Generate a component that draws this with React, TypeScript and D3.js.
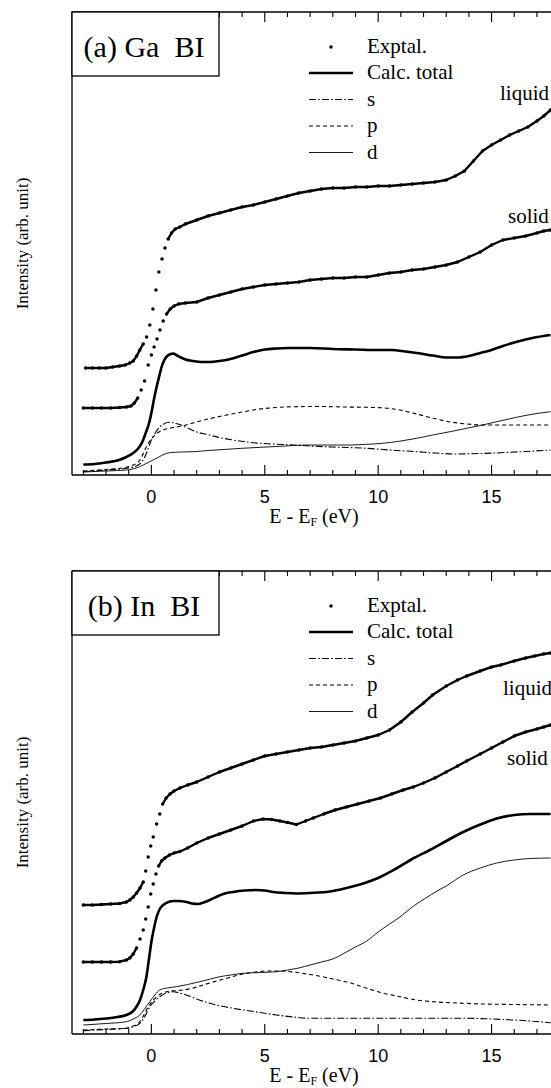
import React from 'react';
import * as d3 from 'd3';

type P = [number, number];

// ---------- axis / labels ----------
const xDomain: [number, number] = [-3.5, 18];
const yDomain: [number, number] = [0, 46.3];
const xTickLabels = [0, 5, 10, 15];
const legendLabels = ['Exptal.', 'Calc. total', 's', 'p', 'd'];

// ---------- panel (a) Ga BI ----------
const gaLiquid: P[] = [
  [-2.9, 10.7], [-2.6, 10.7], [-2.3, 10.7], [-2.0, 10.7], [-1.7, 10.8], [-1.4, 10.9], [-1.15, 11.0],
  [-0.95, 11.2], [-0.8, 11.4], [-0.65, 11.9], [-0.51, 12.5], [-0.36, 13.1], [-0.21, 13.8], [-0.07, 15.0],
  [0.07, 16.6], [0.2, 18.5], [0.33, 20.3], [0.47, 21.6], [0.6, 22.7], [0.74, 23.6], [0.89, 24.2],
  [1.05, 24.6], [1.25, 24.8], [1.5, 25.1], [2.0, 25.5], [2.5, 25.9], [3.0, 26.2], [3.5, 26.5], [4.0, 26.8],
  [4.5, 27.0], [5.0, 27.3], [5.5, 27.6], [6.0, 27.9], [6.5, 28.2], [7.0, 28.4], [7.5, 28.6], [8.0, 28.7],
  [8.5, 28.7], [9.0, 28.8], [9.5, 28.8], [10.0, 28.9], [10.5, 28.9], [11.0, 29.0], [11.5, 29.1],
  [12.0, 29.2], [12.5, 29.3], [13.0, 29.5], [13.4, 29.9], [13.8, 30.4], [14.2, 31.4], [14.6, 32.4],
  [15.0, 33.0], [15.4, 33.5], [15.8, 34.0], [16.2, 34.4], [16.6, 34.8], [17.0, 35.4], [17.3, 35.9], [17.6, 36.5],
];
const gaSolid: P[] = [
  [-3.0, 6.7], [-2.6, 6.7], [-2.2, 6.7], [-1.8, 6.7], [-1.4, 6.75], [-1.1, 6.8], [-0.9, 6.9], [-0.75, 7.2],
  [-0.6, 7.7], [-0.45, 8.5], [-0.3, 9.4], [-0.14, 11.0], [0.0, 12.0], [0.12, 12.8], [0.25, 13.6],
  [0.38, 14.5], [0.52, 15.4], [0.67, 16.1], [0.83, 16.6], [1.0, 16.9], [1.2, 17.1], [1.5, 17.2], [2.0, 17.3],
  [2.5, 17.7], [3.0, 18.0], [3.5, 18.3], [4.0, 18.6], [4.5, 18.8], [5.0, 19.0], [5.5, 19.1], [6.0, 19.2],
  [6.5, 19.3], [7.0, 19.5], [7.5, 19.6], [8.0, 19.7], [8.5, 19.7], [9.0, 19.8], [9.5, 19.8], [10.0, 20.0],
  [10.5, 20.2], [11.0, 20.3], [11.5, 20.5], [12.0, 20.6], [12.5, 20.8], [13.0, 21.0], [13.5, 21.3],
  [14.0, 21.8], [14.5, 22.3], [15.0, 23.0], [15.5, 23.5], [16.0, 23.7], [16.5, 23.9], [17.0, 24.2],
  [17.3, 24.4], [17.6, 24.5],
];
const gaTotal: P[] = [
  [-3.0, 1.05], [-2.5, 1.1], [-2.0, 1.25], [-1.5, 1.45], [-1.1, 1.8], [-0.8, 2.2], [-0.6, 2.6], [-0.4, 3.3],
  [-0.25, 4.2], [-0.1, 5.2], [0.0, 6.2], [0.1, 7.4], [0.23, 8.8], [0.35, 9.9], [0.45, 10.8], [0.57, 11.5],
  [0.7, 11.9], [0.85, 12.1], [0.96, 12.15], [1.1, 12.0], [1.26, 11.8], [1.5, 11.55], [1.84, 11.4],
  [2.2, 11.3], [2.6, 11.3], [3.0, 11.4], [3.4, 11.55], [4.0, 11.95], [4.5, 12.3], [5.0, 12.55], [5.5, 12.65],
  [6.0, 12.7], [7.0, 12.7], [8.0, 12.6], [9.0, 12.55], [10.0, 12.5], [10.6, 12.5], [11.2, 12.35],
  [11.7, 12.2], [12.4, 11.95], [13.0, 11.75], [13.5, 11.75], [14.0, 11.9], [14.5, 12.2], [15.0, 12.5],
  [15.5, 12.9], [16.0, 13.25], [16.8, 13.7], [17.6, 14.0],
];
const gaS: P[] = [
  [-3.0, 0.33], [-2.0, 0.5], [-1.1, 0.67], [-0.8, 0.8], [-0.58, 1.0], [-0.4, 1.4], [-0.29, 1.8],
  [-0.15, 2.6], [0.0, 3.5], [0.2, 4.3], [0.37, 4.8], [0.55, 5.1], [0.74, 5.27], [0.9, 5.25], [1.04, 5.17],
  [1.3, 5.0], [1.55, 4.75], [2.0, 4.3], [2.58, 4.0], [3.0, 3.75], [3.6, 3.5], [4.2, 3.3], [4.8, 3.17],
  [5.5, 3.08], [6.26, 3.0], [7.0, 2.9], [8.0, 2.8], [9.5, 2.67], [10.5, 2.5], [11.7, 2.33], [12.5, 2.2],
  [13.46, 2.1], [14.5, 2.15], [15.4, 2.23], [16.5, 2.35], [17.6, 2.5],
];
const gaP: P[] = [
  [-3.0, 0.4], [-2.0, 0.55], [-1.1, 0.77], [-0.8, 1.0], [-0.65, 1.17], [-0.45, 1.7], [-0.29, 2.5],
  [-0.1, 3.3], [0.08, 3.8], [0.3, 4.25], [0.52, 4.5], [0.75, 4.65], [0.96, 4.75], [1.45, 4.95],
  [1.84, 5.2], [2.5, 5.6], [3.32, 6.0], [4.0, 6.3], [4.79, 6.6], [5.5, 6.75], [6.26, 6.83], [7.5, 6.85],
  [8.5, 6.8], [9.5, 6.77], [10.3, 6.7], [10.96, 6.5], [11.7, 6.1], [12.43, 5.67], [13.2, 5.3],
  [13.9, 5.1], [14.6, 5.0], [15.37, 5.0], [16.5, 5.0], [17.6, 5.0],
];
const gaD: P[] = [
  [-3.0, 0.3], [-2.0, 0.4], [-1.1, 0.5], [-0.6, 0.75], [-0.36, 1.0], [-0.1, 1.3], [0.23, 1.67],
  [0.45, 1.95], [0.67, 2.17], [0.9, 2.25], [1.3, 2.3], [1.84, 2.33], [2.5, 2.45], [3.32, 2.57],
  [4.0, 2.67], [4.79, 2.77], [5.5, 2.85], [6.26, 2.95], [7.0, 3.0], [8.0, 3.0], [8.75, 3.0], [9.5, 3.07],
  [10.2, 3.17], [11.0, 3.4], [11.7, 3.67], [12.4, 4.0], [13.17, 4.33], [13.9, 4.67], [14.6, 5.0],
  [15.3, 5.37], [16.1, 5.77], [16.8, 6.08], [17.6, 6.33],
];

// ---------- panel (b) In BI ----------
const inLiquid: P[] = [
  [-3.0, 12.9], [-2.6, 12.9], [-2.2, 12.95], [-1.8, 13.0], [-1.4, 13.05], [-1.1, 13.2], [-0.95, 13.4],
  [-0.8, 13.7], [-0.65, 14.1], [-0.5, 14.6], [-0.36, 15.2], [-0.25, 16.3], [-0.14, 17.7], [-0.03, 18.8],
  [0.08, 19.7], [0.23, 21.0], [0.37, 22.0], [0.5, 23.0], [0.65, 23.6], [0.82, 24.0], [1.0, 24.3],
  [1.26, 24.6], [1.6, 24.9], [2.0, 25.2], [2.5, 25.7], [3.0, 26.2], [3.5, 26.6], [4.0, 27.0], [4.5, 27.4],
  [5.0, 27.8], [5.5, 28.0], [6.0, 28.2], [6.5, 28.4], [7.0, 28.6], [7.5, 28.7], [8.0, 28.9], [8.5, 29.1],
  [9.0, 29.3], [9.5, 29.6], [10.0, 29.9], [10.5, 30.4], [11.0, 31.2], [11.5, 32.2], [12.0, 33.1],
  [12.4, 33.9], [13.0, 34.8], [13.5, 35.4], [13.9, 35.8], [14.5, 36.3], [15.0, 36.7], [15.4, 36.9],
  [16.0, 37.3], [16.5, 37.6], [16.9, 37.8], [17.3, 38.0], [17.6, 38.1],
];
const inSolid: P[] = [
  [-3.0, 7.2], [-2.6, 7.2], [-2.2, 7.2], [-1.8, 7.2], [-1.4, 7.23], [-1.1, 7.4], [-0.95, 7.6], [-0.8, 8.0],
  [-0.65, 8.6], [-0.5, 9.5], [-0.36, 10.4], [-0.25, 11.5], [-0.14, 12.7], [-0.03, 14.0], [0.08, 15.0],
  [0.2, 16.0], [0.32, 16.8], [0.45, 17.3], [0.6, 17.6], [0.8, 17.9], [1.0, 18.1], [1.26, 18.25],
  [1.6, 18.6], [2.0, 19.1], [2.5, 19.6], [3.0, 20.0], [3.5, 20.4], [4.0, 20.8], [4.5, 21.3], [4.93, 21.5],
  [5.3, 21.45], [5.67, 21.3], [6.0, 21.15], [6.4, 20.95], [6.8, 21.3], [7.14, 21.6], [7.6, 22.0], [8.1, 22.4],
  [8.6, 22.7], [9.1, 23.0], [9.6, 23.3], [10.1, 23.6], [10.6, 24.0], [11.1, 24.4], [11.55, 24.7],
  [12.0, 25.1], [12.5, 25.6], [13.0, 26.2], [13.5, 26.8], [13.9, 27.3], [14.5, 28.0], [15.0, 28.6],
  [15.5, 29.2], [16.0, 29.8], [16.5, 30.2], [17.0, 30.5], [17.3, 30.7], [17.6, 30.9],
];
const inTotal: P[] = [
  [-3.0, 1.4], [-2.5, 1.45], [-2.0, 1.55], [-1.5, 1.7], [-1.1, 1.9], [-0.8, 2.3], [-0.65, 2.75],
  [-0.5, 3.4], [-0.36, 4.4], [-0.22, 5.7], [-0.1, 7.6], [0.0, 9.2], [0.1, 10.4], [0.23, 11.7],
  [0.37, 12.5], [0.52, 12.9], [0.75, 13.2], [1.0, 13.3], [1.2, 13.3], [1.55, 13.2], [1.8, 13.05],
  [2.06, 13.0], [2.3, 13.15], [2.58, 13.4], [2.9, 13.75], [3.17, 14.0], [3.6, 14.2], [4.1, 14.35],
  [4.64, 14.4], [5.0, 14.35], [5.37, 14.2], [5.9, 14.1], [6.4, 14.05], [7.0, 14.1], [7.87, 14.25],
  [8.6, 14.6], [9.34, 15.05], [10.0, 15.6], [10.8, 16.55], [11.5, 17.5], [12.28, 18.4], [13.0, 19.3],
  [13.75, 20.2], [14.5, 20.95], [15.23, 21.55], [16.0, 21.9], [16.7, 22.0], [17.6, 22.0],
];
const inS: P[] = [
  [-3.0, 0.33], [-2.0, 0.45], [-1.1, 0.57], [-0.8, 0.75], [-0.5, 1.07], [-0.3, 1.7], [-0.07, 2.73],
  [0.15, 3.3], [0.37, 3.73], [0.65, 4.1], [0.96, 4.23], [1.25, 4.1], [1.55, 3.9], [2.0, 3.5], [2.58, 3.07],
  [3.3, 2.7], [4.05, 2.4], [4.8, 2.15], [5.52, 1.9], [6.26, 1.7], [6.99, 1.57], [8.0, 1.57], [9.5, 1.57],
  [11.0, 1.57], [12.5, 1.57], [13.9, 1.57], [15.0, 1.5], [16.0, 1.4], [16.8, 1.28], [17.6, 1.13],
];
const inP: P[] = [
  [-3.0, 0.4], [-2.0, 0.5], [-1.1, 0.57], [-0.8, 0.8], [-0.58, 1.07], [-0.35, 1.8], [-0.14, 2.73],
  [0.05, 3.3], [0.23, 3.73], [0.45, 4.05], [0.67, 4.23], [1.0, 4.33], [1.4, 4.4], [1.85, 4.6],
  [2.28, 4.9], [2.8, 5.25], [3.32, 5.57], [4.05, 6.0], [4.6, 6.2], [5.08, 6.3], [5.6, 6.3], [6.26, 6.2],
  [6.99, 5.95], [7.5, 5.75], [8.0, 5.5], [8.8, 5.1], [9.5, 4.57], [10.2, 4.1], [10.96, 3.73], [11.7, 3.4],
  [12.43, 3.23], [13.5, 3.1], [14.6, 3.0], [16.0, 2.95], [17.6, 2.9],
];
const inD: P[] = [
  [-3.0, 0.9], [-2.0, 1.05], [-1.1, 1.23], [-0.8, 1.5], [-0.51, 1.9], [-0.3, 2.5], [-0.07, 3.23],
  [0.15, 3.9], [0.37, 4.4], [0.7, 4.6], [1.11, 4.73], [1.6, 4.95], [2.14, 5.23], [2.6, 5.5], [3.02, 5.73],
  [3.5, 5.9], [4.05, 6.07], [4.8, 6.15], [5.52, 6.23], [6.0, 6.4], [6.5, 6.6], [7.0, 6.9], [7.5, 7.2],
  [8.0, 7.5], [8.6, 8.2], [9.0, 8.7], [9.5, 9.3], [10.0, 10.2], [10.5, 11.0], [10.96, 11.7], [11.5, 12.7],
  [12.1, 13.6], [12.6, 14.3], [13.0, 14.8], [13.75, 15.9], [14.5, 16.6], [15.23, 17.1], [16.0, 17.4],
  [16.7, 17.55], [17.6, 17.6],
];

// ---------- layout ----------
const LEFT = 72;
const RIGHT = 559.6;
const PANEL_H = 463;
const SERIF = "'Liberation Serif', 'Times New Roman', Times, 'Nimbus Roman', 'DejaVu Serif', serif";
const SANS = "'Liberation Sans', Arial, Helvetica, sans-serif";

const panels = [
  { title: '(a) Ga  BI', top: 12, liquid: gaLiquid, solid: gaSolid, total: gaTotal, s: gaS, p: gaP, d: gaD,
    liquidPos: [500, 100], solidPos: [508, 223] },
  { title: '(b) In  BI', top: 571, liquid: inLiquid, solid: inSolid, total: inTotal, s: inS, p: inP, d: inD,
    liquidPos: [503, 695], solidPos: [507, 765] },
];

const styleTotal = { strokeWidth: 2.6, dash: undefined as string | undefined };
const styleS = { strokeWidth: 1.1, dash: '7 2.2 1.6 2.2' };
const styleP = { strokeWidth: 1.1, dash: '4 3' };
const styleD = { strokeWidth: 0.9, dash: undefined as string | undefined };

function Exptl({ data, x, y }: { data: P[]; x: any; y: any }) {
  let d = '';
  for (let i = 1; i < data.length; i++) {
    const a = data[i - 1], b = data[i];
    const dx = Math.abs(x(b[0]) - x(a[0]));
    const dy = Math.abs(y(b[1]) - y(a[1]));
    if (dy <= 1.3 * dx + 2) {
      d += `M${x(a[0])},${y(a[1])}L${x(b[0])},${y(b[1])}`;
    }
  }
  return (
    <g>
      <path d={d} fill="none" stroke="#000" strokeWidth={2.4} strokeLinecap="round" />
      {data.map((pt, i) => (
        <circle key={i} cx={x(pt[0])} cy={y(pt[1])} r={1.75} fill="#000" />
      ))}
    </g>
  );
}

const serifStyle = { fontFamily: SERIF };
const sansStyle = { fontFamily: SANS };

function Panel(props: any) {
  const { title, top, liquid, solid, total, s, p, d, liquidPos, solidPos } = props;
  const bottom = top + PANEL_H;
  const x = d3.scaleLinear().domain(xDomain).range([LEFT, RIGHT]);
  const y = d3.scaleLinear().domain(yDomain).range([bottom, top]);
  const line = d3.line<P>().x((v) => x(v[0])).y((v) => y(v[1])).curve(d3.curveMonotoneX);
  const ticks = d3.range(-3, 19);

  const curves = [
    { data: total, st: styleTotal },
    { data: s, st: styleS },
    { data: p, st: styleP },
    { data: d, st: styleD },
  ];

  const legendRowY = [35, 61, 87.5, 114, 140.5];
  const legendStyles = [null, styleTotal, styleS, styleP, styleD];

  return (
    <g>
      {/* frame */}
      <line x1={LEFT} y1={top} x2={RIGHT} y2={top} stroke="#000" strokeWidth={1.3} />
      <line x1={LEFT} y1={bottom} x2={RIGHT} y2={bottom} stroke="#000" strokeWidth={1.3} />
      <line x1={LEFT} y1={top} x2={LEFT} y2={bottom} stroke="#000" strokeWidth={1.3} />
      <line x1={RIGHT} y1={top} x2={RIGHT} y2={bottom} stroke="#000" strokeWidth={1.3} />
      {ticks.map((t) => {
        const len = t % 5 === 0 ? 10 : 5;
        return (
          <g key={t}>
            <line x1={x(t)} x2={x(t)} y1={bottom} y2={bottom - len} stroke="#000" strokeWidth={1.1} />
            <line x1={x(t)} x2={x(t)} y1={top} y2={top + len} stroke="#000" strokeWidth={1.1} />
          </g>
        );
      })}
      {xTickLabels.map((t) => (
        <text key={t} x={x(t)} y={bottom + 28} textAnchor="middle" style={sansStyle} fontSize={18}>
          {t}
        </text>
      ))}
      <text x={314} y={bottom + 48} textAnchor="middle" style={serifStyle} fontSize={20}>
        E - E<tspan fontSize={12} dy={3}>F</tspan>
        <tspan dy={-3}> (eV)</tspan>
      </text>
      <text
        transform={`translate(28,${(top + bottom) / 2}) rotate(-90)`}
        textAnchor="middle"
        style={serifStyle}
        fontSize={17}
      >
        Intensity (arb. unit)
      </text>

      {/* curves */}
      {curves.map((c, i) => (
        <path
          key={i}
          d={line(c.data) || ''}
          fill="none"
          stroke="#000"
          strokeWidth={c.st.strokeWidth}
          strokeDasharray={c.st.dash}
        />
      ))}
      <Exptl data={liquid} x={x} y={y} />
      <Exptl data={solid} x={x} y={y} />

      {/* labels */}
      <text x={liquidPos[0]} y={liquidPos[1]} style={serifStyle} fontSize={21}>liquid</text>
      <text x={solidPos[0]} y={solidPos[1]} style={serifStyle} fontSize={21}>solid</text>

      {/* title box */}
      <rect x={LEFT} y={top} width={147} height={64} fill="#fff" stroke="#000" strokeWidth={1.3} />
      <text x={144} y={top + 45} textAnchor="middle" fontSize={30} style={{ whiteSpace: 'pre', fontFamily: SERIF }}>
        {title}
      </text>

      {/* legend */}
      {legendLabels.map((lab, i) => {
        const ly = top + legendRowY[i];
        const st = legendStyles[i];
        return (
          <g key={lab}>
            {st ? (
              <line x1={309} x2={353} y1={ly} y2={ly} stroke="#000" strokeWidth={st.strokeWidth} strokeDasharray={st.dash} />
            ) : (
              <circle cx={331} cy={ly} r={1.75} fill="#000" />
            )}
            <text x={367} y={ly + 6} style={serifStyle} fontSize={21}>{lab}</text>
          </g>
        );
      })}
    </g>
  );
}

export default function App() {
  return (
    <svg
      width={551}
      height={1088}
      style={{ position: 'absolute', left: 0, top: 0, background: '#fff' }}
    >
      <rect x={0} y={0} width={551} height={1088} fill="#fff" />
      {panels.map((p) => (
        <Panel key={p.title} {...p} />
      ))}
    </svg>
  );
}
